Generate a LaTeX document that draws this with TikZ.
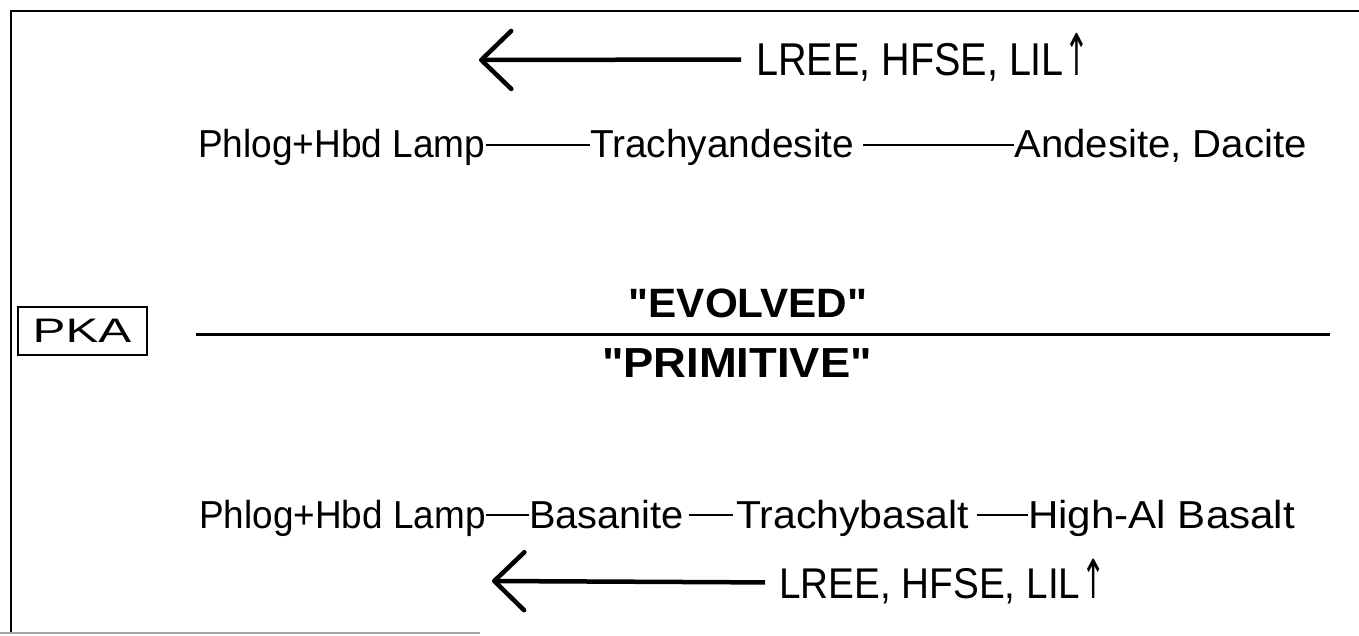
\documentclass[tikz,border=0pt]{standalone}
\usepackage{fontspec}
\setmainfont{Liberation Sans}[Ligatures=TeXOff]
\newfontfamily\arrowfont{DejaVu Sans}
\usetikzlibrary{arrows.meta}
\newcommand{\wide}[2]{\scalebox{#1}[1]{#2}}
\newcommand{\upmark}{\kern1pt\scalebox{0.75}[1.25]{\arrowfont ↑}}
\begin{document}
\begin{tikzpicture}[x=1pt,y=-1pt,
  rock/.style={inner sep=0pt, anchor=base west,
    font=\fontsize{39}{39}\selectfont, text height=30pt, text depth=4pt},
  link/.style={line width=2pt},
  flux/.style={inner sep=0pt, anchor=base west, text depth=0pt},
  fluxarrow/.style={line width=4.5pt,
    -{Straight Barb[length=30pt,width=58pt,round]}},
  realm/.style={inner sep=0pt, anchor=base,
    font=\bfseries\fontsize{41}{41}\selectfont},
  frame/.style={line width=2pt, line cap=round},
  divider/.style={line width=3pt}]

\useasboundingbox (0,0) rectangle (1359,636);

% outer frame (open on the right)
\draw[frame] (1359,11) -- (11,11) -- (11,633);
\draw[line width=1.5pt, black!35] (0,633) -- (480,633);

% upper series
\node[flux, font=\fontsize{46}{46}\selectfont, text height=33pt] (topflux) at (756,76)
  {\wide{0.86}{LREE, HFSE, LIL\upmark}};
\coordinate (toptip) at (479,60);
\draw[fluxarrow, shorten <=15pt] (topflux.west) -- (toptip);

\node[rock] (ua) at (198,158) {\wide{0.95}{Phlog+Hbd Lamp}};
\node[rock] (ub) at (590,158) {\wide{0.995}{Trachyandesite}};
\node[rock] (uc) at (1014,158) {\wide{1.03}{Andesite, Dacite}};
\draw[link] (ua.east) -- (ub.west);
\draw[link, shorten <=9pt] (ub.east) -- (uc.west);

% dividing line
\node[draw, line width=2pt, minimum width=129pt, minimum height=48pt,
  font=\fontsize{34}{34}\selectfont, inner sep=0pt] (pka) at (82,331)
  {\wide{1.45}{PKA}};
\coordinate (divL) at (196,334);
\coordinate (divR) at (1330,334);
\draw[divider] (divL) -- (divR);
\node[realm] (evolved) at (748,317) {\wide{1.03}{"EVOLVED"}};
\node[realm, font=\bfseries\fontsize{42}{42}\selectfont] (primitive) at (737,377)
  {\wide{1.08}{"PRIMITIVE"}};

% lower series
\node[rock] (la) at (199,528) {\wide{0.947}{Phlog+Hbd Lamp}};
\node[rock] (lb) at (529,528) {\wide{1.02}{Basanite}};
\node[rock] (lc) at (736,528) {\wide{1.05}{Trachybasalt}};
\node[rock] (ld) at (1028,528) {\wide{1.08}{High-Al Basalt}};
\draw[link] (la.east) -- (lb.west);
\draw[link, shorten <=5pt, shorten >=3pt] (lb.east) -- (lc.west);
\draw[link, shorten <=8pt] (lc.east) -- (ld.west);

\node[flux, font=\fontsize{43}{43}\selectfont, text height=31pt] (botflux) at (779,598)
  {\wide{0.9}{LREE, HFSE, LIL\upmark}};
\coordinate (bottip) at (492,581);
\draw[fluxarrow, shorten <=14pt] (botflux.west) -- (bottip);
\end{tikzpicture}
\end{document}
